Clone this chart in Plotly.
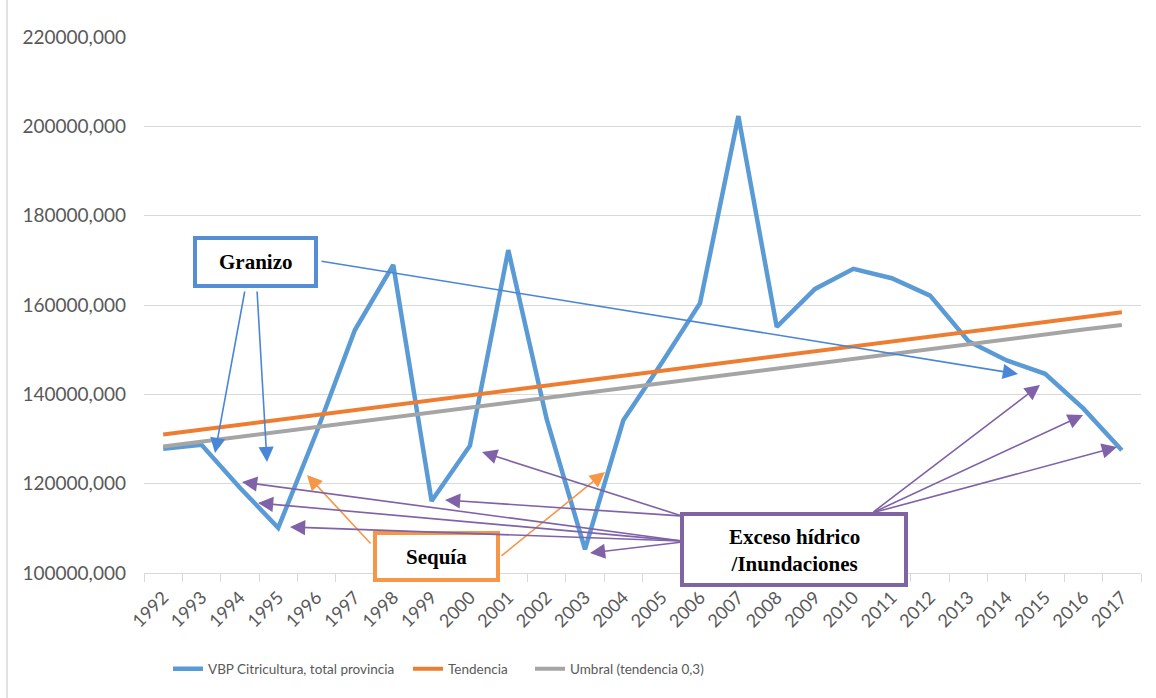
import plotly.graph_objects as go

years = [str(y) for y in range(1992, 2018)]
vbp = [127800, 128700, 119100, 110100, 131500, 154400, 169000, 116100, 128500, 172300,
       134500, 105300, 134200, 147000, 160400, 202300, 155100, 163600, 168100, 166000,
       162100, 151900, 147600, 144600, 136800, 127500]
tendencia = [131000, 132100, 133200, 134300, 135400, 136500, 137600, 138700, 139800, 140900,
             142000, 143100, 144200, 145300, 146400, 147500, 148600, 149700, 150800, 151900,
             153000, 154100, 155200, 156300, 157400, 158400]
umbral = [128300, 129400, 130500, 131600, 132700, 133800, 134800, 135900, 137000, 138100,
          139200, 140300, 141400, 142500, 143600, 144700, 145800, 146900, 148000, 149000,
          150100, 151200, 152300, 153400, 154500, 155500]
ytick_vals = [100000, 120000, 140000, 160000, 180000, 200000, 220000]
ytick_text = ["100000,000", "120000,000", "140000,000", "160000,000", "180000,000",
              "200000,000", "220000,000"]
series_names = ["VBP Citricultura, total provincia", "Tendencia", "Umbral (tendencia 0,3)"]

W, H = 1156, 698
PL, PR, PT, PB = 144, 1141, 37, 573


def px2x(px):
    return (px - PL) / (PR - PL)


def py2y(py):
    return (PB - py) / (PB - PT)


fig = go.Figure()
fig.add_trace(go.Scatter(x=years, y=vbp, mode="lines", name=series_names[0],
                         line=dict(color="#5B9BD5", width=4.5), legend="legend",
                         showlegend=True))
fig.add_trace(go.Scatter(x=years, y=tendencia, mode="lines", name=series_names[1],
                         line=dict(color="#ED7D31", width=4), legend="legend2",
                         showlegend=True))
fig.add_trace(go.Scatter(x=years, y=umbral, mode="lines", name=series_names[2],
                         line=dict(color="#A5A5A5", width=4), legend="legend3",
                         showlegend=True))

legfont = dict(family="Lato, sans-serif", size=13.5, color="#595959")
leg_common = dict(orientation="h", yanchor="middle", xanchor="left", font=legfont,
                  bgcolor="rgba(0,0,0,0)", itemwidth=30)

shapes = []
annotations = []

# boxes
boxes = [
    (195, 316, 238, 286, "#558ED5"),
    (375, 498, 533, 580, "#F79646"),
    (682, 906, 514, 585, "#8064A2"),
]
for x0, x1, y0, y1, c in boxes:
    shapes.append(dict(type="rect", xref="paper", yref="paper",
                       x0=px2x(x0), x1=px2x(x1), y0=py2y(y1), y1=py2y(y0),
                       line=dict(color=c, width=4), fillcolor="white", layer="above"))

# border line on the left of the chart area
shapes.append(dict(type="line", xref="paper", yref="paper", x0=px2x(7), x1=px2x(7),
                   y0=py2y(698), y1=py2y(0), line=dict(color="#D9D9D9", width=1.5)))

serif = "Liberation Serif, Times New Roman, serif"
labels = [
    (255.5, 262, "<b>Granizo</b>"),
    (436.5, 557, "<b>Sequía</b>"),
    (794, 550, "<b>Exceso hídrico<br>/Inundaciones</b>"),
]
for cx, cy, t in labels:
    annotations.append(dict(xref="paper", yref="paper", x=px2x(cx), y=py2y(cy),
                            xanchor="center", yanchor="middle", align="center",
                            text=t, showarrow=False,
                            font=dict(family=serif, size=21, color="black")))

arrows = [
    # Granizo
    ((215, 453), (245, 290), "#4A86D8"),
    ((267, 462), (257, 290), "#4A86D8"),
    ((1018, 374), (320, 261), "#4A86D8"),
    # Sequia
    ((307, 475), (372, 545), "#F79646"),
    ((605, 472), (500, 557), "#F79646"),
    # Exceso
    ((482, 452), (682, 516), "#7F62A8"),
    ((445, 500), (682, 516), "#7F62A8"),
    ((242, 482), (682, 541), "#7F62A8"),
    ((258, 503), (682, 541), "#7F62A8"),
    ((290, 527), (682, 541), "#7F62A8"),
    ((590, 553), (682, 542), "#7F62A8"),
    ((1040, 385), (872, 513), "#7F62A8"),
    ((1083, 415), (872, 513), "#7F62A8"),
    ((1117, 447), (872, 513), "#7F62A8"),
]
for (hx, hy), (tx, ty), c in arrows:
    annotations.append(dict(xref="paper", yref="paper", x=px2x(hx), y=py2y(hy),
                            axref="pixel", ayref="pixel", ax=tx - hx, ay=ty - hy,
                            text="", showarrow=True, arrowhead=2, arrowsize=1.9,
                            arrowwidth=1.6, arrowcolor=c, standoff=0, startstandoff=0))

fig.update_layout(
    width=W, height=H,
    showlegend=True,
    margin=dict(l=PL, r=W - PR, t=PT, b=H - PB, pad=0),
    paper_bgcolor="white", plot_bgcolor="white",
    font=dict(family="Lato, sans-serif", color="#595959"),
    xaxis=dict(type="category", range=[-0.5, 25.5], tickson="boundaries", ticks="outside",
               ticklen=8, tickcolor="#D9D9D9", showline=True, linecolor="#D9D9D9",
               linewidth=1, showgrid=False, zeroline=False, tickangle=-45,
               tickfont=dict(family="Lato, sans-serif", size=18, color="#595959"),
               ticklabelstandoff=6),
    yaxis=dict(range=[100000, 220000], tickvals=ytick_vals, ticktext=ytick_text,
               showgrid=True, gridcolor="#D9D9D9", gridwidth=1, zeroline=False,
               showline=False, ticks="",
               tickfont=dict(family="Lato, sans-serif", size=19, color="#595959"),
               ticklabelstandoff=17),
    legend=dict(x=px2x(168), y=py2y(669), **leg_common),
    legend2=dict(x=px2x(408), y=py2y(669), **leg_common),
    legend3=dict(x=px2x(530), y=py2y(669), **leg_common),
    shapes=shapes,
    annotations=annotations,
)

fig.write_html("out.html", include_plotlyjs=True, config={"displayModeBar": False},
               post_script="document.body.style.margin='0';")
